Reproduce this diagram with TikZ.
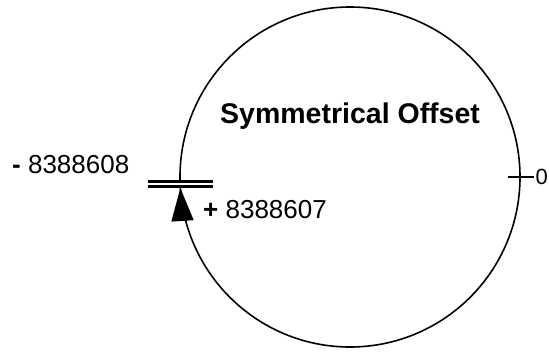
\documentclass[tikz,border=0pt]{standalone}
\usepackage{fontspec}
\setmainfont{Liberation Sans}
\usetikzlibrary{arrows.meta}

\tikzset{
  lbl/.style={inner sep=0pt, font=\fontsize{26}{30}\selectfont},
  heading/.style={inner sep=0pt, font=\fontsize{28.5}{32}\selectfont\bfseries},
}

\begin{document}
\begin{tikzpicture}[x=1pt,y=1pt,yscale=-1,xscale=1]
\useasboundingbox (0,0) rectangle (549,351);

%Shape: Circle [id:ring]
\node [circle, draw, line width=1.6pt, minimum size=340pt, inner sep=0pt] (ring) at (350,177) {};

%Shape: Arrow along the circle
\draw [line width=1.6pt, -{Triangle[length=33pt,width=22pt]}] (ring.center) ++(164.5:170) arc [start angle=164.5, end angle=176.3, radius=170];

%Shape: Double line (wrap point)
\coordinate (cutL) at (148,184);
\coordinate (cutR) at (213,184);
\draw [double, line width=2.5pt, double distance=2.5pt] (cutL) -- (cutR);

% Text Node
\node [heading, anchor=base west] (name) at (220,123) {Symmetrical Offset};
% Text Node
\node [lbl, anchor=base west] (neg) at (12,173) {\textbf{-} 8388608};
% Text Node
\node [lbl, anchor=base west] (pos) at (203,218) {\textbf{+} 8388607};
% Text Node
\node [inner sep=1.5pt, anchor=west, font=\fontsize{22}{26}\selectfont] (zero) at (534,177) {0};

%Shape: Tick at zero
\draw [line width=1.4pt] ([xshift=-13pt]ring.east) -- (zero.west);

\end{tikzpicture}
\end{document}
